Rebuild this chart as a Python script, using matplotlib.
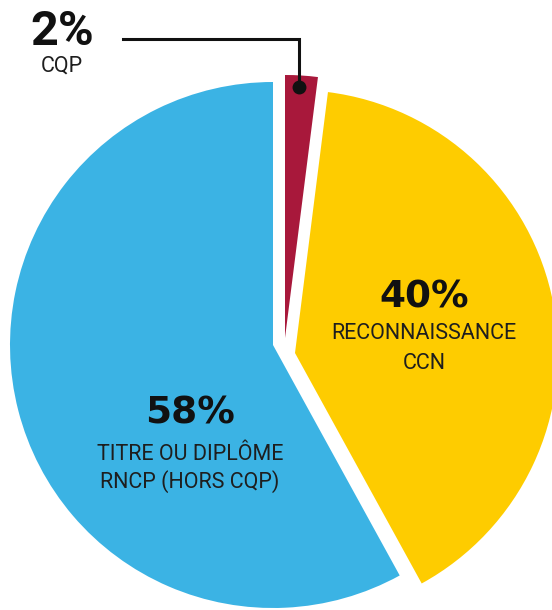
import matplotlib
matplotlib.use("Agg")
import matplotlib.pyplot as plt

# share of each certification type
shares = [58, 40, 2]
labels = [["TITRE OU DIPLÔME", "RNCP (HORS CQP)"], ["RECONNAISSANCE", "CCN"], ["CQP"]]
colors = ["#3bb3e4", "#fecc00", "#a8183b"]

W, H = 552, 610
fig = plt.figure(figsize=(W / 100, H / 100), dpi=100)
ax = fig.add_axes([0, 0, 1, 1])

# pixel-like data space, y measured from the top
def sy(y):
    return H - y

wedges, _ = ax.pie(shares, colors=colors, startangle=90, counterclock=True,
                   radius=263, center=(273, sy(345)),
                   wedgeprops=dict(linewidth=0))

# pull the slices apart a little
shifts = [(0, 0), (22, -8), (12, 7)]
for w, (dx, dy) in zip(wedges, shifts):
    cx, cy = w.center
    w.set_center((cx + dx, cy + dy))

ax.set_xlim(0, W)
ax.set_ylim(0, H)
ax.set_aspect("equal")
ax.axis("off")

pct = dict(family=["DejaVu Sans"], weight="bold", color="#111111",
           ha="center", va="baseline", fontsize=27)
small = dict(family=["Roboto", "DejaVu Sans"], weight="normal", color="#1e1e1e",
             ha="center", va="baseline", fontsize=15.5)

def put_label(x, y_pct, y_lines, value, lines):
    ax.text(x, sy(y_pct), f"{value}%", **pct)
    for y, line in zip(y_lines, lines):
        ax.text(x, sy(y), line, **small)

put_label(190, 424, [460, 488], shares[0], labels[0])
put_label(424, 307, [339, 369], shares[1], labels[1])

# 2 % sits outside, with a leader line down to its slice
ax.text(62, sy(45), f"{shares[2]}%", family=["Roboto", "DejaVu Sans"],
        weight="bold", color="#111111", ha="center", va="baseline", fontsize=35)
ax.text(62, sy(72), labels[2][0], **small)
ax.plot([123, 299, 299], [sy(39), sy(39), sy(87)], color="#111111", lw=2.2,
        solid_joinstyle="miter")
ax.plot([299], [sy(87)], "o", color="#111111", markersize=9)

fig.savefig("out.png", dpi=100)
